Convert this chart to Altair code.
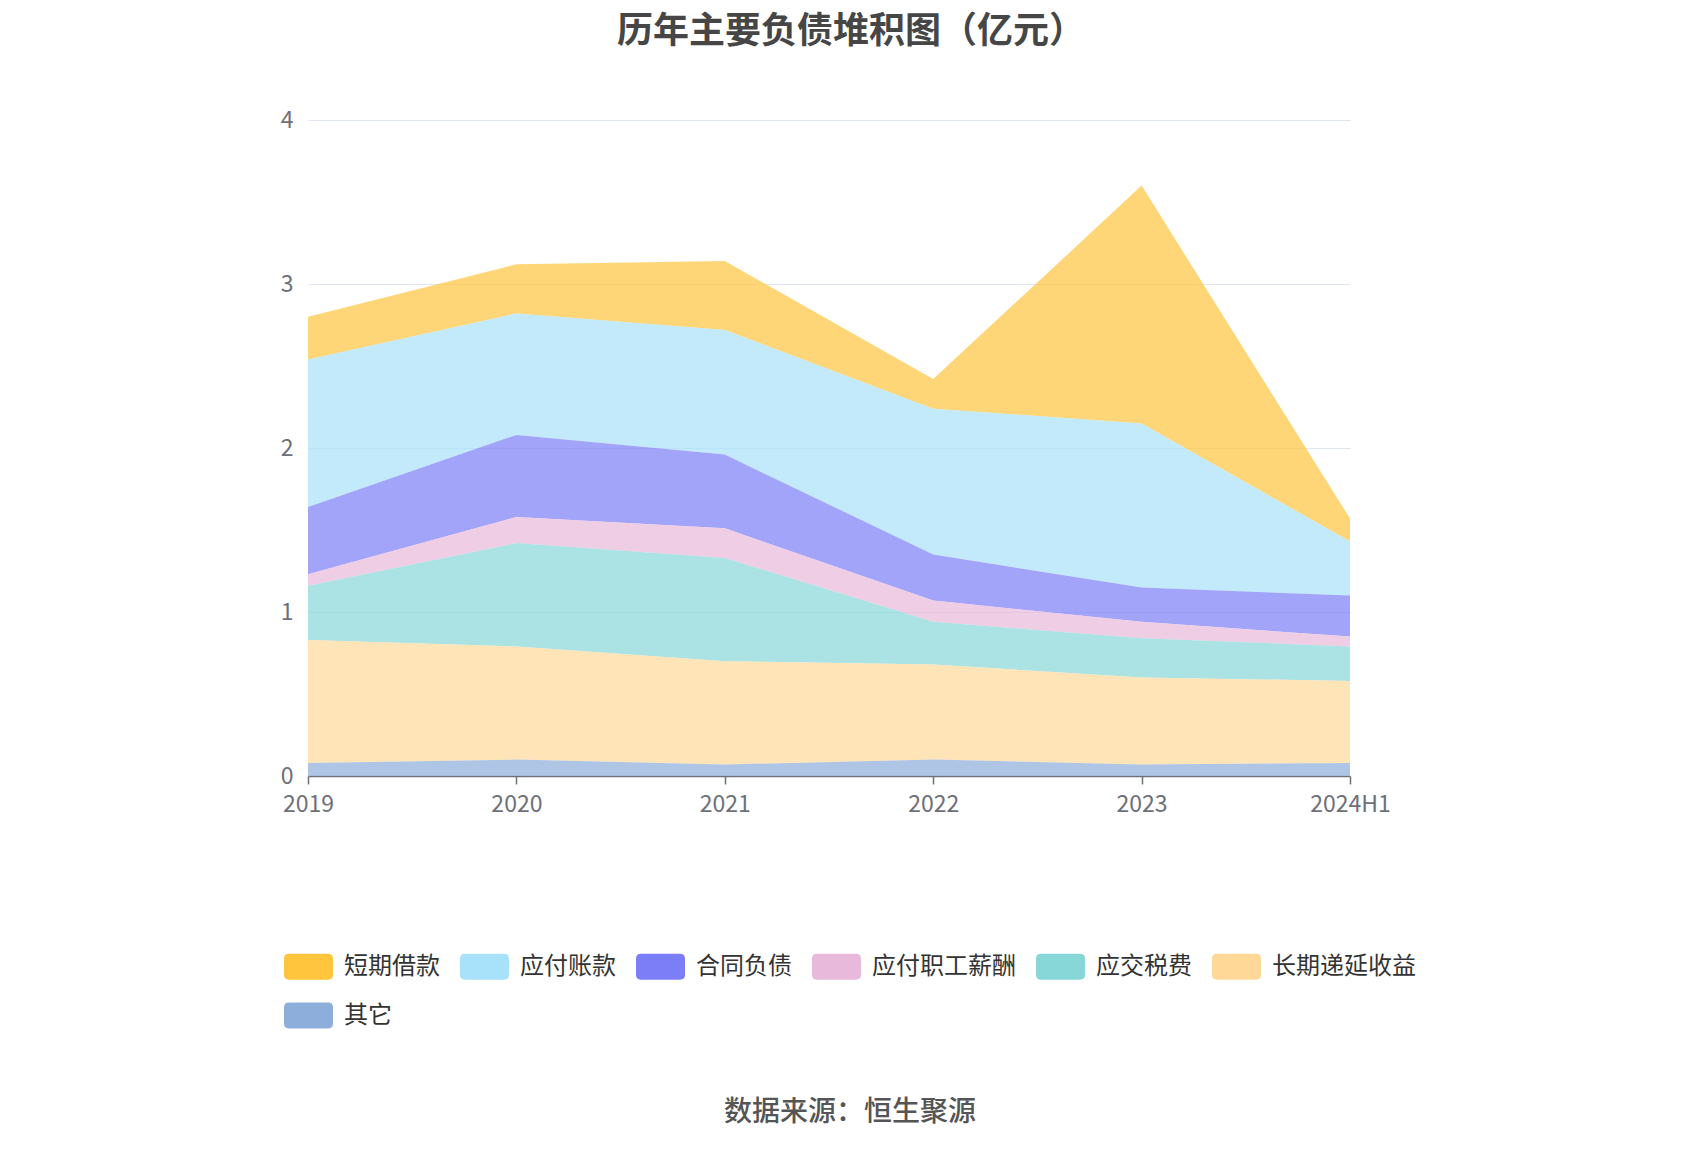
import altair as alt
import pandas as pd

years = ["2019", "2020", "2021", "2022", "2023", "2024H1"]
series_names = ["短期借款", "应付账款", "合同负债", "应付职工薪酬", "应交税费", "长期递延收益", "其它"]
short_loan = [0.26, 0.30, 0.42, 0.18, 1.45, 0.14]
payables = [0.90, 0.74, 0.76, 0.89, 1.00, 0.33]
contract_liab = [0.41, 0.50, 0.45, 0.28, 0.21, 0.25]
payroll = [0.07, 0.16, 0.18, 0.13, 0.10, 0.06]
taxes = [0.33, 0.63, 0.63, 0.26, 0.24, 0.21]
deferred = [0.75, 0.69, 0.63, 0.58, 0.53, 0.50]
other = [0.08, 0.10, 0.07, 0.10, 0.07, 0.08]
colors = ["#FFC53D", "#A8E1FA", "#7B7EF6", "#E8B9DA", "#87D7D9", "#FFD898", "#8DADDB"]

series_values = [short_loan, payables, contract_liab, payroll, taxes, deferred, other]
rows = []
for si, (name, vals) in enumerate(zip(series_names, series_values)):
    for yr, v in zip(years, vals):
        rows.append({"year": yr, "series": name, "value": v, "ord": len(series_names) - si})
df = pd.DataFrame(rows)

FONT = "Noto Sans CJK SC"
W, H = 1042, 656

sym = "M-0.8,-0.53 L0.8,-0.53 Q1,-0.53 1,-0.33 L1,0.33 Q1,0.53 0.8,0.53 L-0.8,0.53 Q-1,0.53 -1,0.33 L-1,-0.33 Q-1,-0.53 -0.8,-0.53 Z"

area = alt.Chart(df).mark_area(opacity=0.7, strokeWidth=0).encode(
    x=alt.X("year:N", sort=years, scale=alt.Scale(type="point", padding=0),
            axis=alt.Axis(title=None, labelAngle=0, labelFontSize=23, labelColor="#6E7079",
                          labelFont=FONT, domainColor="#6E7079", domainWidth=1.5,
                          tickColor="#6E7079", tickSize=8, tickWidth=1.5, labelPadding=9,
                          grid=False)),
    y=alt.Y("value:Q", stack="zero", scale=alt.Scale(domain=[0, 4], nice=False),
            axis=alt.Axis(title=None, values=[0, 1, 2, 3, 4], labelFontSize=23,
                          labelColor="#6E7079", labelFont=FONT, domain=False, ticks=False,
                          tickSize=0, labelPadding=15, gridColor="#E0E6F1", gridWidth=1.2)),
    color=alt.Color("series:N", sort=series_names,
                    scale=alt.Scale(domain=series_names, range=colors),
                    legend=alt.Legend(title=None, orient="none", legendX=-24, legendY=822,
                                      direction="horizontal", columns=6, symbolType=sym,
                                      symbolSize=2401, symbolOpacity=1, symbolStrokeWidth=0,
                                      labelFontSize=24, labelFont=FONT, labelColor="#333333",
                                      labelOffset=11, columnPadding=20, rowPadding=11,
                                      padding=0, labelLimit=400)),
    order=alt.Order("ord:Q", sort="ascending"),
)

source = alt.Chart(pd.DataFrame({"t": ["数据来源：恒生聚源"]})).mark_text(
    font=FONT, fontSize=28, color="#555555", align="center", baseline="middle", fontWeight=500
).encode(text="t:N", x=alt.value(542), y=alt.value(993))

chart = alt.layer(area, source).properties(
    width=W, height=H,
    title=alt.TitleParams("历年主要负债堆积图（亿元）", font=FONT, fontSize=36, fontWeight="bold",
                          color="#464646", anchor="middle", dx=22, offset=58),
    padding={"left": 300, "top": 112, "right": 342, "bottom": 366},
    autosize=alt.AutoSizeParams(type="none"),
).configure_view(stroke=None)

chart.save("out.html", embed_options={"renderer": "svg", "actions": False})
